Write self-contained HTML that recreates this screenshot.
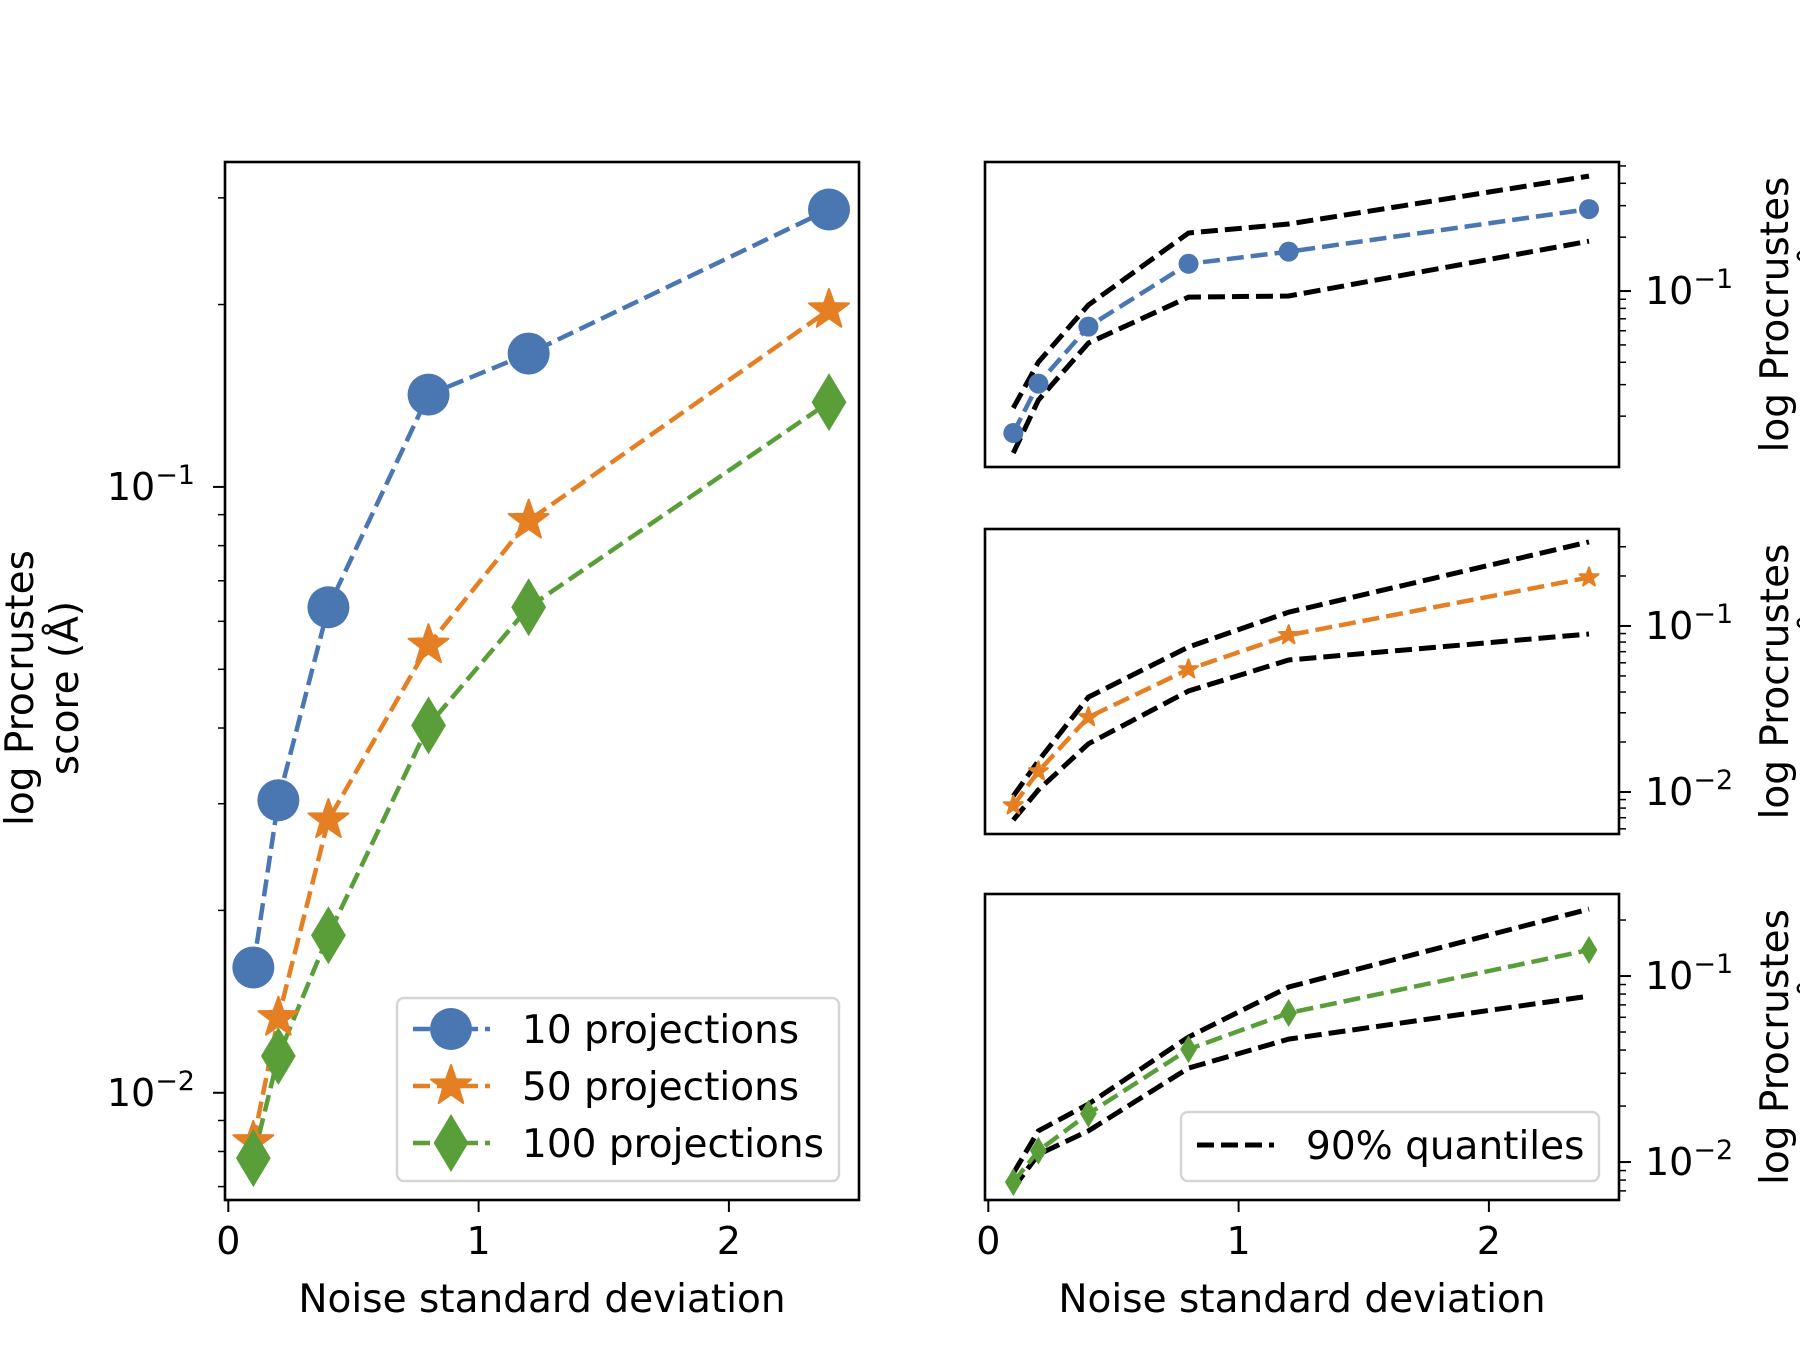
<!DOCTYPE html>
<html><head><meta charset="utf-8"><style>
html,body{margin:0;padding:0;background:#fff;}
svg{display:block;font-family:"DejaVu Sans","Liberation Sans",sans-serif;}
</style></head><body>
<svg id="fig" width="1800" height="1350" viewBox="0 0 1800 1350" xmlns="http://www.w3.org/2000/svg"></svg>
<script>
const xsVals = [0.1, 0.2, 0.4, 0.8, 1.2, 2.4];
const blueVals = [0.0161, 0.0304, 0.0633, 0.142, 0.166, 0.287];
const orangeVals = [0.0083, 0.0133, 0.0282, 0.0548, 0.088, 0.196];
const greenVals = [0.0078, 0.0115, 0.0182, 0.0404, 0.0633, 0.138];
const blueUpper = [0.0222, 0.0401, 0.0836, 0.211, 0.237, 0.439];
const blueLower = [0.01245, 0.0246, 0.0512, 0.0925, 0.0938, 0.190];
const orangeUpper = [0.00946, 0.0154, 0.0373, 0.0747, 0.121, 0.321];
const orangeLower = [0.00678, 0.0103, 0.0195, 0.0406, 0.0624, 0.0895];
const greenUpper = [0.0087, 0.0147, 0.0205, 0.047, 0.0873, 0.229];
const greenLower = [0.00724, 0.011, 0.0147, 0.032, 0.0458, 0.078];
const xTickVals = [0, 1, 2];
const seriesNames = ["10 projections", "50 projections", "100 projections"];
const quantileLabel = "90% quantiles";

const NS = "http://www.w3.org/2000/svg";
const svg = document.getElementById('fig');
const C = {blue:'#4a76b2', orange:'#e57f24', green:'#5a9e3a'};
function el(tag, attrs, parent){const e=document.createElementNS(NS,tag);for(const k in attrs)e.setAttribute(k,attrs[k]);(parent||svg).appendChild(e);return e;}

function makeAxes(name, x0, x1, y0, y1, xmin, xmax, lmin, lmax, ySide){
  const g = el('g',{});
  
  
  const sx = v => x0 + (v - xmin) / (xmax - xmin) * (x1 - x0);
  const sy = v => y1 - (Math.log10(v) - lmin) / (lmax - lmin) * (y1 - y0);
  return {g, sx, sy, x0, x1, y0, y1, lmin, lmax, ySide};
}
function drawFrame(ax, xlabel){
  const {g,x0,x1,y0,y1}=ax;
  const r=el('rect',{x:x0,y:y0,width:x1-x0,height:y1-y0,fill:'none',stroke:'#000','stroke-width':2.6},g);
  
  
  if(xlabel){
    xTickVals.forEach(v=>{
      const x=ax.sx(v);
      el('line',{x1:x,x2:x,y1:y1,y2:y1+12,stroke:'#000','stroke-width':2},g);
      const t=el('text',{x:x,y:y1+54,'font-size':38,'text-anchor':'middle'},g);
      t.textContent=v;
      
      
    });
    const xl=el('text',{x:(x0+x1)/2,y:y1+112,'font-size':39,'text-anchor':'middle'},g);
    xl.textContent=xlabel;
    
    
  }
  for(let d=Math.floor(ax.lmin); d<=Math.ceil(ax.lmax); d++){
    for(let m=1;m<10;m++){
      const v=m*Math.pow(10,d), lv=Math.log10(v);
      if(lv<ax.lmin-1e-9||lv>ax.lmax+1e-9) continue;
      const y=ax.sy(v), len=m===1?12:7, w=m===1?2:1.5;
      if(ax.ySide==='left') el('line',{x1:x0,x2:x0-len,y1:y,y2:y,stroke:'#000','stroke-width':w},g);
      else el('line',{x1:x1,x2:x1+len,y1:y,y2:y,stroke:'#000','stroke-width':w},g);
      if(m===1){
        const tx = ax.ySide==='left' ? x0-30 : x1+26;
        const t=el('text',{x:tx,y:y+13,'font-size':38,'text-anchor':ax.ySide==='left'?'end':'start'},g);
        
        
        t.appendChild(document.createTextNode('10'));
        const s=el('tspan',{dy:-16,'font-size':27},t);
        s.textContent='\u2212'+(-d);
      }
    }
  }
}
function pathFor(ax, vals){return vals.map((v,i)=>(i?'L':'M')+ax.sx(xsVals[i]).toFixed(1)+' '+ax.sy(v).toFixed(1)).join(' ');}
function line(ax, vals, color, name, width, dash){
  const p=el('path',{d:pathFor(ax,vals),fill:'none',stroke:color,'stroke-width':width,'stroke-dasharray':dash},ax.g);
  
  
}
function marker(parent, kind, cx, cy, s, color){
  let m;
  if(kind==='circle') m=el('circle',{cx:cx,cy:cy,r:s,fill:color},parent);
  else if(kind==='star'){
    let pts=[];for(let k=0;k<10;k++){const a=-Math.PI/2+k*Math.PI/5, rr=k%2?s*0.4:s;pts.push((cx+rr*Math.cos(a)).toFixed(1)+','+(cy+rr*Math.sin(a)).toFixed(1));}
    m=el('polygon',{points:pts.join(' '),fill:color,stroke:color,'stroke-width':2,'stroke-linejoin':'round'},parent);
  } else {
    m=el('polygon',{points:`${cx},${cy-s} ${cx+s*0.6},${cy} ${cx},${cy+s} ${cx-s*0.6},${cy}`,fill:color},parent);
  }
  return m;
}
function markers(ax, vals, kind, s, color, name){
  vals.forEach((v,i)=>{
    const m=marker(ax.g,kind,ax.sx(xsVals[i]),ax.sy(v),s,color);
    
    
  });
}

const L = makeAxes('main-axes', 225, 859, 162, 1200, -0.0132, 2.5198, -2.177, -0.4637, 'left');
line(L, blueVals, C.blue, 'line-10-projections', 4.5, '17 7');
line(L, orangeVals, C.orange, 'line-50-projections', 4.5, '17 7');
line(L, greenVals, C.green, 'line-100-projections', 4.5, '17 7');
markers(L, blueVals, 'circle', 21, C.blue, 'point-10-projections');
markers(L, orangeVals, 'star', 21, C.orange, 'point-50-projections');
markers(L, greenVals, 'diamond', 29, C.green, 'point-100-projections');
drawFrame(L, 'Noise standard deviation');
const yl=el('text',{transform:'translate(33,688) rotate(-90)','font-size':39,'text-anchor':'middle'});


el('tspan',{x:0,y:0},yl).textContent='log Procrustes';
el('tspan',{x:0,y:45},yl).textContent='score (Å)';

const lg=el('g',{});


el('rect',{x:397,y:998,width:442,height:183,rx:7,fill:'#fff','fill-opacity':0.8,stroke:'#d5d5d5','stroke-width':2.5},lg);
const legKinds=[['circle',C.blue,21],['star',C.orange,21],['diamond',C.green,29]];
seriesNames.forEach((nm,i)=>{
  const y=1029+i*57;
  const e=el('g',{},lg);
  
  
  el('line',{x1:413,x2:490,y1:y,y2:y,stroke:legKinds[i][1],'stroke-width':4.5,'stroke-dasharray':'17 7'},e);
  marker(e,legKinds[i][0],451,y,legKinds[i][2],legKinds[i][1]);
  const t=el('text',{x:522,y:y+14,'font-size':39},e);
  t.textContent=nm;
});

const panels=[
  {name:'panel-10-projections',y0:162,y1:467,lmin:-1.983,lmax:-0.279,vals:blueVals,up:blueUpper,lo:blueLower,kind:'circle',s:10,color:C.blue},
  {name:'panel-50-projections',y0:529,y1:834,lmin:-2.253,lmax:-0.416,vals:orangeVals,up:orangeUpper,lo:orangeLower,kind:'star',s:10,color:C.orange},
  {name:'panel-100-projections',y0:894,y1:1200,lmin:-2.204,lmax:-0.559,vals:greenVals,up:greenUpper,lo:greenLower,kind:'diamond',s:14,color:C.green},
];
panels.forEach(p=>{
  const ax=makeAxes(p.name,985,1619,p.y0,p.y1,-0.0132,2.5198,p.lmin,p.lmax,'right');
  line(ax,p.up,'#000','quantile-upper',5,'17 7');
  line(ax,p.lo,'#000','quantile-lower',5,'17 7');
  line(ax,p.vals,p.color,'series-line',4.5,'17 7');
  markers(ax,p.vals,p.kind,p.s,p.color,'series-point');
  drawFrame(ax, p.y1===1200?'Noise standard deviation':'');
  const t=el('text',{transform:`translate(1788,${(p.y0+p.y1)/2}) rotate(-90)`,'font-size':39,'text-anchor':'middle'});
  
  
  el('tspan',{x:0,y:0},t).textContent='log Procrustes';
  el('tspan',{x:0,y:45},t).textContent='score (Å)';
});
const rl=el('g',{});


el('rect',{x:1181,y:1112,width:418,height:69,rx:7,fill:'#fff','fill-opacity':0.8,stroke:'#d5d5d5','stroke-width':2.5},rl);
el('line',{x1:1197,x2:1274,y1:1145,y2:1145,stroke:'#000','stroke-width':5,'stroke-dasharray':'17 7'},rl);
el('text',{x:1306,y:1159,'font-size':39},rl).textContent=quantileLabel;
</script>
</body></html>
